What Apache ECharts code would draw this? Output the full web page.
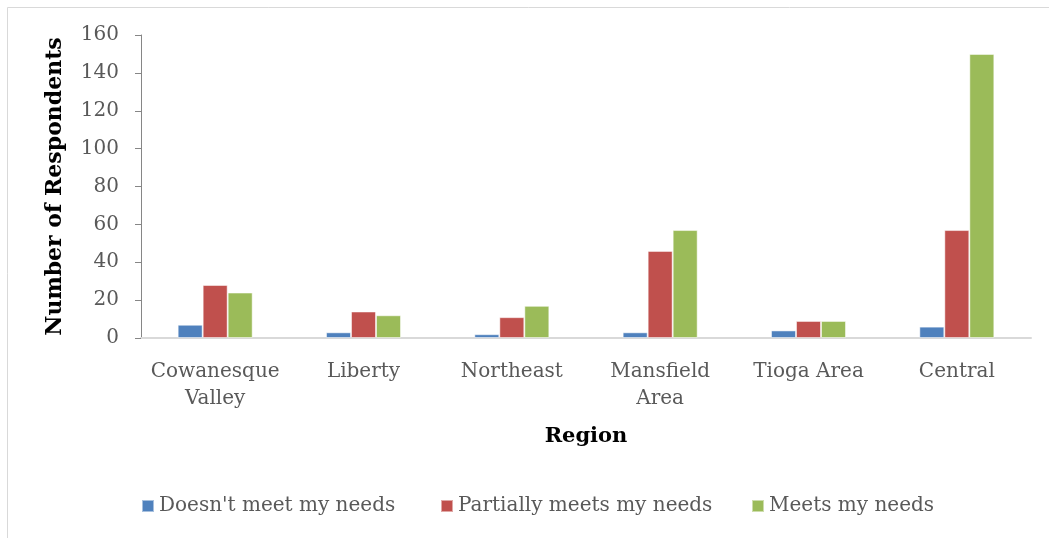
<!DOCTYPE html>
<html>
<head>
<meta charset="utf-8">
<script src="https://cdn.jsdelivr.net/npm/echarts@6/dist/echarts.min.js"></script>
<style>
html,body{margin:0;padding:0;background:#fff;}
#chart{width:1049px;height:538px;}
</style>
</head>
<body>
<div id="chart"></div>
<script>
var regions = ['Cowanesque\nValley', 'Liberty', 'Northeast', 'Mansfield\nArea', 'Tioga Area', 'Central'];
var doesntMeet = [7, 3, 2, 3, 4, 6];
var partiallyMeets = [28, 14, 11, 46, 9, 57];
var meets = [24, 12, 17, 57, 9, 150];
var seriesNames = ["Doesn't meet my needs", 'Partially meets my needs', 'Meets my needs'];
var colors = ['#4f81bd', '#c0504d', '#9bbb59'];

var font = '"DejaVu Serif", "Liberation Serif", serif';
var chart = echarts.init(document.getElementById('chart'), null, {renderer: 'canvas'});

function bar(name, data, color) {
    return {
        name: name,
        type: 'bar',
        data: data,
        barWidth: 25,
        barGap: '0%',
        itemStyle: {color: color, borderColor: 'rgba(255,255,255,0.5)', borderWidth: 1},
        animation: false
    };
}

// one legend per item so each can sit where the reference puts it
var legendLeft = [136, 435, 746];
var legends = seriesNames.map(function (n, i) {
    return {
        data: [n],
        top: 491,
        left: legendLeft[i],
        itemWidth: 12,
        itemHeight: 12,
        itemGap: 4,
        icon: 'rect',
        textStyle: {fontFamily: font, fontSize: 20, color: '#595959'}
    };
});

chart.setOption({
    backgroundColor: '#fff',
    textStyle: {fontFamily: font},
    graphic: [{
        type: 'rect',
        shape: {x: 7.5, y: 7.5, width: 1060, height: 560},
        style: {fill: 'none', stroke: '#d9d9d9', lineWidth: 1},
        silent: true
    }],
    grid: {left: 141, right: 18, top: 35, bottom: 200},
    legend: legends,
    xAxis: {
        type: 'category',
        data: regions,
        name: 'Region',
        nameLocation: 'middle',
        nameGap: 88,
        nameTextStyle: {fontFamily: font, fontSize: 21, fontWeight: 'bold', color: '#000'},
        axisLine: {lineStyle: {color: '#d9d9d9', width: 2}},
        axisTick: {show: false},
        axisLabel: {interval: 0, fontFamily: font, fontSize: 20, color: '#595959', margin: 20, lineHeight: 27}
    },
    yAxis: {
        type: 'value',
        min: 0,
        max: 160,
        interval: 20,
        name: 'Number of Respondents',
        nameLocation: 'middle',
        nameGap: 75,
        nameTextStyle: {fontFamily: font, fontSize: 22, fontWeight: 'bold', color: '#000'},
        axisLine: {show: true, lineStyle: {color: '#868686'}},
        axisTick: {show: true, length: 6, lineStyle: {color: '#868686'}},
        axisLabel: {fontFamily: font, fontSize: 20, color: '#595959', margin: 22},
        splitLine: {show: false}
    },
    series: [
        bar(seriesNames[0], doesntMeet, colors[0]),
        bar(seriesNames[1], partiallyMeets, colors[1]),
        bar(seriesNames[2], meets, colors[2])
    ]
});
</script>
</body>
</html>
